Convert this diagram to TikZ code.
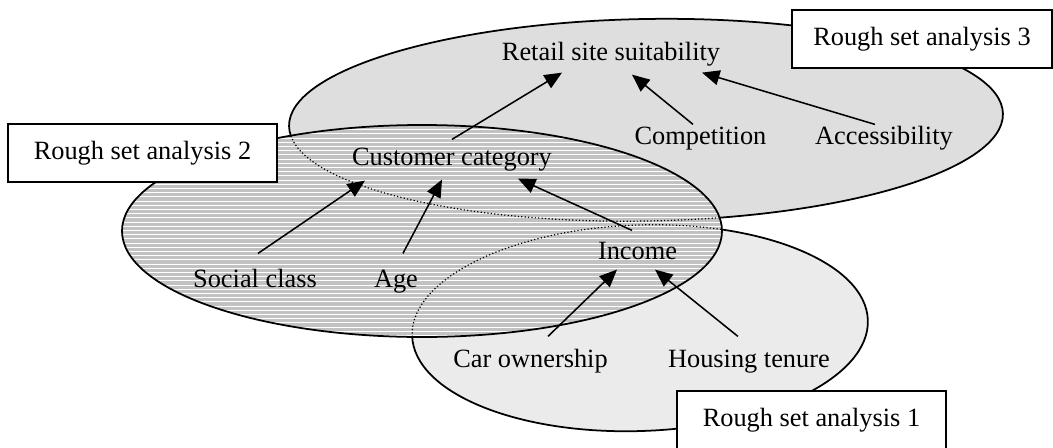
\documentclass[tikz,border=0pt]{standalone}
\usepackage{fontspec}
\setmainfont{Liberation Serif}
\usetikzlibrary{arrows.meta}
\definecolor{setone}{gray}{0.92}
\definecolor{settwo}{gray}{0.76}
\definecolor{setthree}{gray}{0.87}
\tikzset{%
        x = 0.016cm,
        y = -0.016cm,
        font = \fontsize{12}{14}\selectfont
}
\tikzstyle{factor}=[
    inner sep = 0pt,
    text height = 9pt,
    text depth = 3pt
]
\tikzstyle{setbox}=[
    draw = black,
    fill = white,
    line width = 0.6pt,
    minimum width = 4.304cm,
    minimum height = 0.928cm,
    inner sep = 0pt
]
\tikzstyle{link}=[
    -{Triangle[length=2.8mm, width=2.4mm]},
    draw = black,
    line width = 0.7pt
]
\tikzstyle{rim}=[
    draw = black,
    line width = 0.8pt
]
\tikzstyle{hidden}=[
    draw = black,
    line width = 0.55pt,
    densely dotted
]

\begin{document}
\begin{tikzpicture}
        \useasboundingbox (0,0) rectangle (1053,447);
        % sets 3 and 1
        \path[rim, fill=setthree, rotate around={1:(646,120)}] (646,120) ellipse [x radius=357, y radius=101];
        \path[rim, fill=setone, rotate around={2:(640,328)}] (640,328) ellipse [x radius=228, y radius=103];
        % set 2, grey with white rules
        \begin{scope}
            \clip (422,231) ellipse [x radius=300, y radius=106];
            \fill[settwo] (115,120) rectangle (730,345);
            \foreach \y in {125.5,129.7,...,340}
                \draw[white, line width=0.5pt] (115,\y) -- (730,\y);
            \draw[hidden, rotate around={1:(646,120)}] (646,120) ellipse [x radius=357, y radius=101];
            \draw[hidden, rotate around={2:(640,328)}] (640,328) ellipse [x radius=228, y radius=103];
        \end{scope}
        \draw[rim] (422,231) ellipse [x radius=300, y radius=106];

        \node[factor] (retail) at (611,54) {Retail site suitability};
        \node[factor] (competition) at (700.5,138) {Competition};
        \node[factor] (accessibility) [right of = competition, node distance = 2.936cm] {Accessibility};
        \node[factor] (customer) at (452,159) {Customer category};
        \node[factor] (income) at (637.5,253) {Income};
        \node[factor] (social) at (255,281) {Social class};
        \node[factor] (age) [right of = social, node distance = 2.256cm] {Age};
        \node[factor] (car) at (530.5,361) {Car ownership};
        \node[factor] (housing) [right of = car, node distance = 3.496cm] {Housing tenure};

        \node[setbox, minimum width = 4.16cm] (three) at (922,39) {Rough set analysis 3};
        \node[setbox] (two) at (142.5,153) {Rough set analysis 2};
        \node[setbox] (one) at (811.5,420) {Rough set analysis 1};

        \draw[link] ([shift={(0,-6)}]customer.north) -- ([shift={(-49,5)}]retail.south);
        \draw[link] ([shift={(-7.5,0)}]competition.north) -- ([shift={(21,7)}]retail.south);
        \draw[link] ([shift={(-9,0)}]accessibility.north) -- ([shift={(91,5)}]retail.south);
        \draw[link] ([shift={(3,-14)}]social.north) -- ([shift={(-87,8)}]customer.south);
        \draw[link] ([shift={(7,-14)}]age.north) -- ([shift={(-10,7)}]customer.south);
        \draw[link] ([shift={(-5.5,-9)}]income.north) -- ([shift={(66,6)}]customer.south);
        \draw[link] ([shift={(17.5,-11)}]car.north) -- ([shift={(-20.5,3)}]income.south);
        \draw[link] ([shift={(-11,-11)}]housing.north) -- ([shift={(17.5,3)}]income.south);
\end{tikzpicture}
\end{document}
